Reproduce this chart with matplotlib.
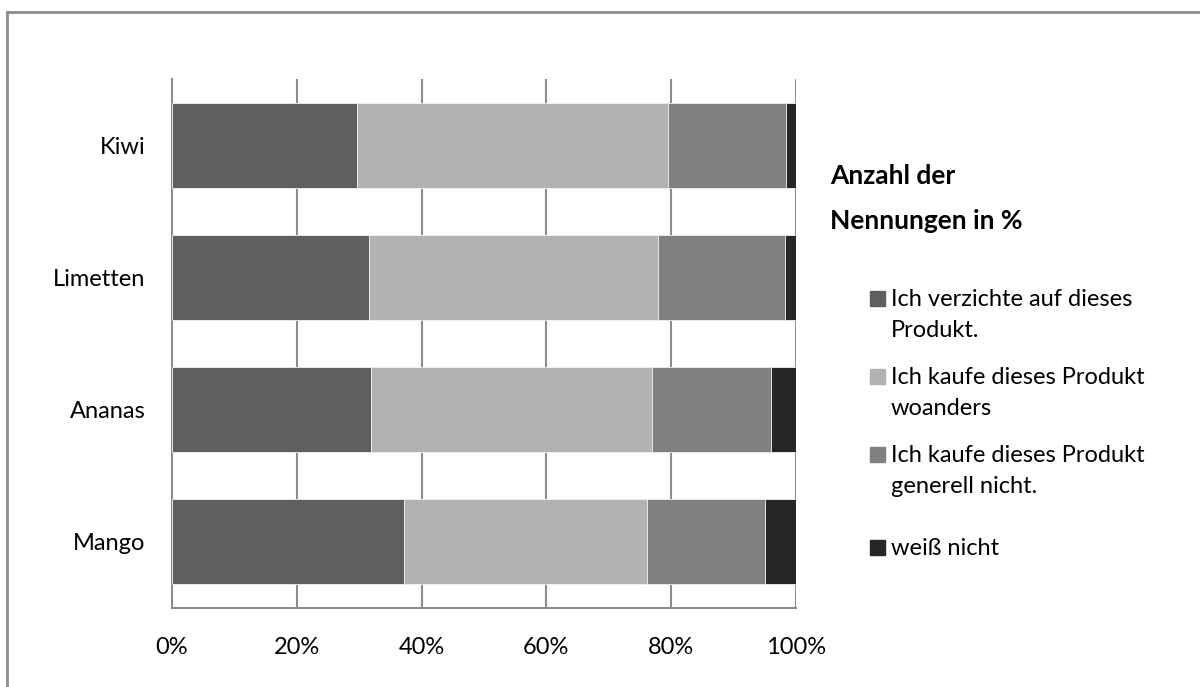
import numpy as np
import matplotlib
matplotlib.use('Agg')
import matplotlib.pyplot as plt
from matplotlib.patches import Rectangle
from matplotlib.lines import Line2D

plt.rcParams['font.family'] = ['Lato', 'DejaVu Sans']

# Anteile in % je Frucht (unten -> oben)
fruits = ['Mango', 'Ananas', 'Limetten', 'Kiwi']
verzichte = [37.1, 31.9, 31.6, 29.6]
woanders = [39.0, 45.1, 46.3, 49.9]
generell_nicht = [19.0, 19.0, 20.4, 18.9]
weiss_nicht = [4.9, 4.0, 1.7, 1.6]

series_labels = [['Ich verzichte auf dieses', 'Produkt.'],
                 ['Ich kaufe dieses Produkt', 'woanders'],
                 ['Ich kaufe dieses Produkt', 'generell nicht.'],
                 ['weiß nicht']]
series_colors = ['#5f5f5f', '#b2b2b2', '#808080', '#262626']
x_ticks = [0, 20, 40, 60, 80, 100]

W, H = 1200, 687
fig = plt.figure(figsize=(W / 100, H / 100), dpi=100)
ax = fig.add_axes([172 / W, 1 - 608 / H, 624 / W, 529 / H])


def fx(px):
    return px / W


def fy(py):
    return 1 - py / H


y = np.arange(len(fruits))
left = np.zeros(len(fruits))
for vals, col in zip([verzichte, woanders, generell_nicht, weiss_nicht],
                     series_colors):
    vals = np.array(vals)
    ax.barh(y, vals, left=left, height=0.643, color=col,
            edgecolor='#f0f0f0', linewidth=0.6, zorder=3)
    left += vals

ax.set_xlim(0, 100)
ax.set_ylim(-0.5, 3.5)
ax.set_xticks(x_ticks)
ax.set_xticklabels([f'{t}%' for t in x_ticks])
ax.set_yticks(y)
ax.set_yticklabels(fruits)
ax.tick_params(axis='both', length=0, labelsize=17, colors='black')
ax.tick_params(axis='y', pad=19)
ax.tick_params(axis='x', pad=21)
ax.grid(axis='x', color='#8c8c8c', linewidth=1.5, zorder=0)
for side in ('top', 'right'):
    ax.spines[side].set_visible(False)
for side in ('left', 'bottom'):
    ax.spines[side].set_color('#8c8c8c')
    ax.spines[side].set_linewidth(1.5)

# Legendentitel
fig.text(fx(830), fy(184), 'Anzahl der', fontsize=19,
         fontweight='bold', va='baseline', ha='left')
fig.text(fx(830), fy(229), 'Nennungen in %', fontsize=19,
         fontweight='bold', va='baseline', ha='left')

# Legendeneinträge: Kästchen auf Höhe der ersten Zeile
entry_baselines = [306, 384, 462, 555]
line_step = 31
for base, lines, col in zip(entry_baselines, series_labels, series_colors):
    fig.patches.append(Rectangle((fx(870), fy(base)), 15 / W, 15 / H,
                                 color=col, transform=fig.transFigure,
                                 figure=fig))
    for i, line in enumerate(lines):
        fig.text(fx(891), fy(base + i * line_step), line, fontsize=17,
                 va='baseline', ha='left')

# Rahmen um die Grafik
fig.add_artist(Line2D([fx(7), fx(7)], [0, fy(12)],
                      transform=fig.transFigure, color='#8c8c8c', lw=2))
fig.add_artist(Line2D([fx(7), 1], [fy(12), fy(12)],
                      transform=fig.transFigure, color='#8c8c8c', lw=2))

fig.savefig('out.png', dpi=100)
